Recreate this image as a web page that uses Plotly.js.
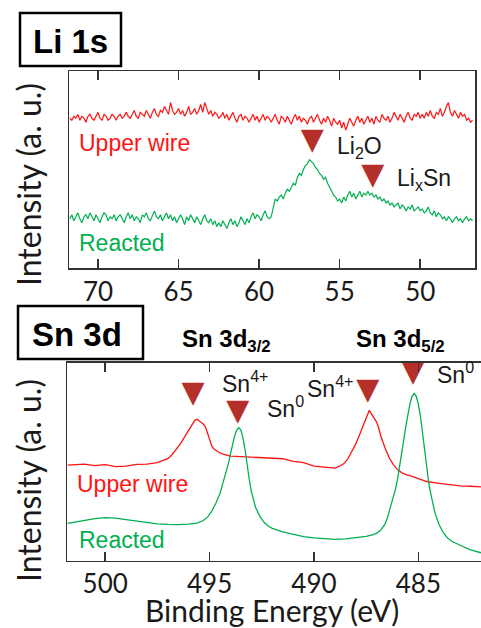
<!DOCTYPE html>
<html>
<head>
<meta charset="utf-8">
<script src="https://cdn.plot.ly/plotly-3.0.1.min.js"></script>
<style>html,body{margin:0;padding:0;background:#fff;}#chart{width:481px;height:628px;}</style>
</head>
<body>
<div id="chart"></div>
<script>
// ---------------- DATA ----------------
// Li 1s panel: energy grid (eV), 0.125 eV sampling from 71.75 down to 46.75
const li1sStart = 71.75, li1sStep = 0.125, li1sCount = 201;
const li1sEnergy = Array.from({length: li1sCount}, (_, i) => +(li1sStart - li1sStep * i).toFixed(3));
const li1sUpperWire = [
  76,75,77,76,78,75,77,76,74,77,78,76,75,77,79,76,75,78,77,75,76,78,77,75,77,
  78,76,77,79,77,76,78,80,77,76,79,78,77,80,78,76,79,81,78,77,80,79,82,80,78,
  84,80,78,79,81,78,80,77,79,82,78,79,81,78,80,83,79,84,81,78,80,77,79,78,76,
  77,79,76,78,75,77,79,76,74,77,78,75,77,76,74,76,78,75,77,74,76,78,75,77,76,
  74,76,78,75,73,77,76,74,77,75,73,76,78,75,77,74,76,75,73,76,77,74,76,78,75,
  73,76,74,77,75,72,76,74,73,75,71,74,70,73,76,74,72,75,77,74,76,73,75,77,74,
  76,73,77,75,74,78,76,75,77,74,76,79,77,75,78,76,74,77,79,76,75,78,77,79,76,
  78,76,79,77,80,77,76,79,78,81,77,79,82,84,79,77,80,78,76,79,77,78,75,76,74,
  75
];
const li1sReacted = [
  25,27,24,26,28,25,23,26,27,25,28,26,24,27,25,23,26,28,27,24,26,25,27,24,26,
  27,25,23,26,28,25,27,24,26,25,23,27,26,28,25,24,27,29,26,25,27,24,26,28,25,
  27,24,26,23,25,27,25,22,26,24,27,25,23,26,24,22,25,27,24,23,25,22,24,21,23,
  21,24,22,20,23,25,22,24,21,23,26,24,22,25,23,26,28,25,27,26,24,27,29,26,25,
  26,30,35,34,36,37,35,38,40,39,41,43,42,46,48,47,50,52,53,55,54,53,51,50,48,
  47,45,46,43,41,39,37,36,34,35,33,36,34,37,39,36,38,35,37,39,36,38,37,39,37,
  38,36,37,35,36,34,35,33,34,32,33,31,32,33,30,32,31,29,31,30,32,29,30,31,29,
  30,28,29,31,28,27,29,26,28,27,25,26,24,26,25,23,25,26,24,25,23,25,26,24,25,
  24
];
const li1sPeakEnergy = [56.7, 52.95];
const li1sPeakHeight = [64.1, 46.7];

// Sn 3d panel
const sn3dUpperEnergy = [501.8,501.0,500.5,500.0,499.5,499.0,498.5,498.0,497.5,497.2,497.0,496.8,496.6,496.4,496.2,496.0,495.8,495.7,495.6,495.5,495.4,495.3,495.2,495.1,495.0,494.9,494.8,494.6,494.4,494.2,494.0,493.5,493.0,492.5,492.0,491.5,491.0,490.5,490.0,489.5,489.0,488.8,488.6,488.4,488.2,488.0,487.8,487.6,487.5,487.4,487.35,487.3,487.2,487.0,486.9,486.8,486.6,486.4,486.2,486.0,485.8,485.6,485.4,485.0,484.6,484.0,483.5,483.0,482.5,482.0];
const sn3dUpperWire   = [48.3,48.8,48.0,48.5,47.5,47.8,48.6,48.8,49.5,50.5,51.5,53.5,56.0,59.0,62.5,66.0,69.5,71.0,71.4,70.8,69.8,69.0,67.5,64.5,61.0,58.0,56.5,55.0,54.0,53.2,52.8,52.6,52.4,52.2,51.8,51.5,50.2,49.5,47.8,47.2,46.8,47.6,48.8,51.0,55.0,59.0,64.0,69.5,72.5,75.5,76.0,75.0,73.5,70.0,67.0,63.0,57.0,52.0,48.5,46.0,44.5,43.5,43.0,41.5,40.0,39.0,38.3,37.8,37.6,37.3];
const sn3dReactedEnergy = [501.8,501.4,501.0,500.5,500.0,499.5,499.0,498.5,498.0,497.5,497.0,496.5,496.0,495.6,495.3,495.1,494.9,494.7,494.5,494.3,494.2,494.1,494.0,493.9,493.8,493.7,493.6,493.5,493.4,493.3,493.2,493.1,493.0,492.9,492.8,492.6,492.4,492.2,492.0,491.5,491.0,490.5,490.0,489.5,489.0,488.5,488.0,487.5,487.2,487.0,486.8,486.6,486.5,486.4,486.3,486.2,486.1,486.0,485.9,485.8,485.7,485.6,485.5,485.4,485.3,485.2,485.1,485.0,484.9,484.8,484.7,484.6,484.5,484.4,484.3,484.2,484.0,483.8,483.6,483.4,483.0,482.5,482.0];
const sn3dReacted       = [18.9,19.6,20.5,21.3,21.8,21.5,20.8,20.0,19.3,18.6,18.3,18.2,18.5,19.0,20.3,22.0,25.0,29.0,34.0,41.0,45.0,49.0,54.0,59.0,63.0,66.0,67.2,66.0,62.0,56.0,48.0,41.0,35.0,30.5,27.0,22.5,19.5,17.5,16.3,14.5,13.2,12.2,11.5,11.0,10.8,11.0,11.5,12.3,13.0,13.8,15.5,18.5,21.0,24.5,28.0,32.5,36.0,41.0,47.0,54.0,61.0,68.0,74.5,79.5,83.0,84.5,83.0,79.0,73.0,64.0,54.0,46.0,39.0,33.5,28.5,24.0,18.0,14.0,11.5,9.8,7.8,5.5,4.0];
const sn3dPeakEnergy = [495.79, 493.65, 487.42, 485.26];
const sn3dPeakHeight = [83.9, 74.6, 85.2, 94.8];

// Tick labels
const li1sTicks = [70, 65, 60, 55, 50];
const sn3dTicks = [500, 495, 490, 485];

// Texts
const panelTitles = ['Li 1s', 'Sn 3d'];
const seriesNames = ['Upper wire', 'Reacted'];
const li1sPeakLabels = ['Li<sub>2</sub>O', 'Li<sub>x</sub>Sn'];
const sn3dPeakLabels = ['Sn<sup>4+</sup>', 'Sn<sup>0</sup>', 'Sn<sup>4+</sup>', 'Sn<sup>0</sup>'];
const sn3dLevelLabels = ['Sn 3d<sub>3/2</sub>', 'Sn 3d<sub>5/2</sub>'];
const yTitle = 'Intensity (a. u.)';
const xTitle = 'Binding Energy (eV)';

// ---------------- LAYOUT ----------------
const W = 481, H = 628;
const px = x => x / W;
const py = y => 1 - y / H;
const RED = '#ff1414', GREEN = '#00b050', TRI = '#b5302a';
const labelFont = 'Liberation Sans, Arial, sans-serif';
const axisFont = 'Lato, Open Sans, sans-serif';

function triangles(xs, ys, xa, ya) {
  return {x: xs, y: ys, xaxis: xa, yaxis: ya, mode: 'text', text: xs.map(() => '▼'), textposition: 'middle center',
    textfont: {family: 'DejaVu Sans', size: 30, color: TRI}, cliponaxis: false};
}

const traces = [
  {x: li1sEnergy, y: li1sUpperWire, xaxis: 'x', yaxis: 'y', mode: 'lines', line: {color: RED, width: 1.2}},
  {x: li1sEnergy, y: li1sReacted, xaxis: 'x', yaxis: 'y', mode: 'lines', line: {color: GREEN, width: 1.2}},
  triangles(li1sPeakEnergy, li1sPeakHeight, 'x', 'y'),
  {x: sn3dUpperEnergy, y: sn3dUpperWire, xaxis: 'x2', yaxis: 'y2', mode: 'lines', line: {color: RED, width: 1.3}},
  {x: sn3dReactedEnergy, y: sn3dReacted, xaxis: 'x2', yaxis: 'y2', mode: 'lines', line: {color: GREEN, width: 1.3}},
  triangles(sn3dPeakEnergy, sn3dPeakHeight, 'x2', 'y2')
];

const axLine = {showline: true, linecolor: '#333', linewidth: 1.5, showgrid: false, zeroline: false};
const xCommon = Object.assign({}, axLine, {ticks: 'inside', ticklen: 9, tickwidth: 1.5, tickcolor: '#333',
  mirror: 'allticks', tickfont: {family: axisFont, size: 26, color: '#1a1a1a'}});
const yCommon = Object.assign({}, axLine, {range: [0, 100], showticklabels: false, ticks: ''});

const ann = [];
function txt(text, x, y, opts) {
  ann.push(Object.assign({text: text, x: px(x), y: py(y), xref: 'paper', yref: 'paper', showarrow: false,
    xanchor: 'left', yanchor: 'middle', font: {family: labelFont, size: 23, color: '#1a1a1a'}}, opts || {}));
}
// panel titles
txt('<b>' + panelTitles[0] + '</b>', 70, 41, {xanchor: 'center', font: {family: labelFont, size: 33, color: '#000'}});
txt('<b>' + panelTitles[1] + '</b>', 77, 334, {xanchor: 'center', font: {family: labelFont, size: 33, color: '#000'}});
// series labels
txt(seriesNames[0], 77, 143, {font: {family: labelFont, size: 23, color: RED}});
txt(seriesNames[1], 77, 243, {font: {family: labelFont, size: 23, color: GREEN}});
txt(seriesNames[0], 75, 484, {font: {family: labelFont, size: 23, color: RED}});
txt(seriesNames[1], 77, 540, {font: {family: labelFont, size: 23, color: GREEN}});
// Li peak labels
txt(li1sPeakLabels[0], 335, 148);
txt(li1sPeakLabels[1], 395, 180);
// Sn peak labels
txt(sn3dPeakLabels[0], 220, 382);
txt(sn3dPeakLabels[1], 265, 407);
txt(sn3dPeakLabels[2], 305, 387);
txt(sn3dPeakLabels[3], 435, 373);
// Sn levels
txt('<b>' + sn3dLevelLabels[0] + '</b>', 180, 340, {font: {family: labelFont, size: 24, color: '#000'}});
txt('<b>' + sn3dLevelLabels[1] + '</b>', 354, 340, {font: {family: labelFont, size: 24, color: '#000'}});
// axis titles
txt(yTitle, 28, 185, {xanchor: 'center', textangle: -90, font: {family: axisFont, size: 32, color: '#1a1a1a'}});
txt(yTitle, 28, 481, {xanchor: 'center', textangle: -90, font: {family: axisFont, size: 32, color: '#1a1a1a'}});
txt(xTitle, 272, 610, {xanchor: 'center', font: {family: axisFont, size: 30, color: '#1a1a1a'}});

const shapes = [
  {type: 'rect', xref: 'paper', yref: 'paper', x0: px(20), x1: px(121), y0: py(66), y1: py(13), line: {color: '#000', width: 2.5}},
  {type: 'rect', xref: 'paper', yref: 'paper', x0: px(18), x1: px(143), y0: py(359), y1: py(306), line: {color: '#000', width: 2.5}}
];

const layout = {
  width: W, height: H, margin: {l: 0, r: 0, t: 0, b: 0}, paper_bgcolor: '#fff', plot_bgcolor: '#fff',
  showlegend: false,
  xaxis: Object.assign({}, xCommon, {domain: [px(69), px(475)], anchor: 'y', range: [71.8, 46.6], tickvals: li1sTicks, ticktext: li1sTicks.map(String)}),
  yaxis: Object.assign({}, yCommon, {domain: [py(268), py(71)], anchor: 'x', mirror: true}),
  xaxis2: Object.assign({}, xCommon, {domain: [px(67), 1], anchor: 'y2', range: [501.83, 482.0], tickvals: sn3dTicks, ticktext: sn3dTicks.map(String)}),
  yaxis2: Object.assign({}, yCommon, {domain: [py(560.7), py(362.7)], anchor: 'x2', mirror: false}),
  annotations: ann,
  shapes: shapes
};

Plotly.newPlot('chart', traces, layout, {staticPlot: true, displayModeBar: false});
</script>
</body>
</html>
